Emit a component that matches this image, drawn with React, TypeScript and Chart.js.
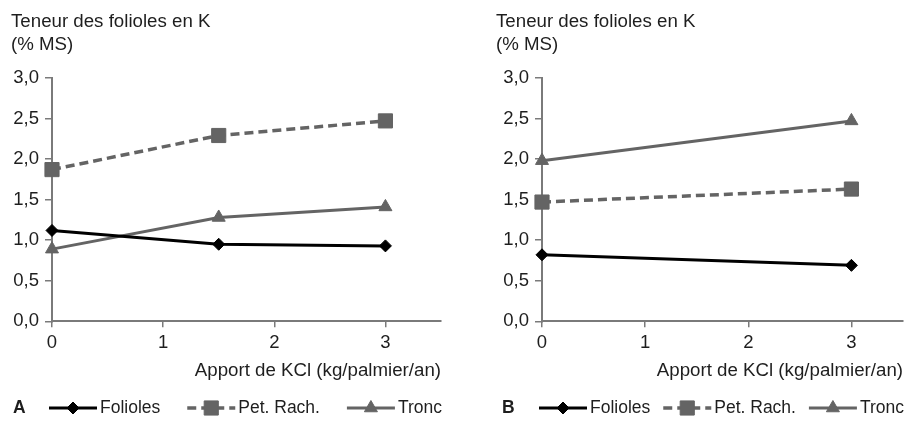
import React, { useEffect, useRef } from 'react';
import { Chart, registerables } from 'chart.js';
import { drawPoint } from 'chart.js/helpers';

Chart.register(...registerables);

// ---- data ----
const yTitleLines = ['Teneur des folioles en K', '(% MS)'];
const xTitle = 'Apport de KCl (kg/palmier/an)';
const seriesNames = ['Folioles', 'Pet. Rach.', 'Tronc'];
const xTickValues = [0, 1, 2, 3];
const yTickValues = [0, 0.5, 1, 1.5, 2, 2.5, 3];

const doseA = [0, 1.5, 3];
const foliolesA = [1.12, 0.95, 0.93];
const petRachA = [1.87, 2.29, 2.47];
const troncA = [0.89, 1.28, 1.41];

const doseB = [0, 3];
const foliolesB = [0.82, 0.69];
const petRachB = [1.47, 1.63];
const troncB = [1.98, 2.47];

// ---- styles ----
const FONT = '"Liberation Sans", Arial, Helvetica, sans-serif';
const TEXT = '#1e1e1e';
const AXIS = '#7a7a7a';
const BLACK = '#000000';
const GREY = '#646464';

const kLegendPlugin = {
  id: 'kLegend',
  afterDraw(chart: any, _args: any, opts: any) {
    const { ctx, chartArea } = chart;
    const y = opts.y;
    ctx.save();
    ctx.textBaseline = 'middle';
    ctx.textAlign = 'left';
    ctx.fillStyle = TEXT;
    ctx.font = `bold ${opts.labelSize}px ${FONT}`;
    ctx.fillText(opts.panel, opts.labelX, y);
    ctx.font = `${opts.fontSize}px ${FONT}`;
    const sampleW = 48;
    const gapText = 3;
    const items = chart.data.datasets.map((ds: any) => ({ ds, w: ctx.measureText(ds.label).width }));
    const total = items.reduce((s: number, it: any) => s + sampleW + gapText + it.w, 0);
    const span = chartArea.right + 1 - opts.startX;
    const gap = items.length > 1 ? (span - total) / (items.length - 1) : 0;
    let x = opts.startX;
    items.forEach(({ ds, w }: any) => {
      ctx.save();
      ctx.strokeStyle = ds.borderColor;
      ctx.lineWidth = ds.borderWidth;
      ctx.setLineDash(ds.borderDash || []);
      ctx.beginPath();
      ctx.moveTo(x, y);
      ctx.lineTo(x + sampleW, y);
      ctx.stroke();
      ctx.setLineDash([]);
      ctx.fillStyle = ds.pointBackgroundColor;
      ctx.strokeStyle = ds.pointBorderColor;
      ctx.lineWidth = ds.pointBorderWidth;
      drawPoint(
        ctx,
        { pointStyle: ds.pointStyle, radius: ds.pointRadius, rotation: 0, borderWidth: ds.pointBorderWidth },
        x + sampleW / 2,
        y
      );
      ctx.restore();
      ctx.fillStyle = TEXT;
      ctx.fillText(ds.label, x + sampleW + gapText, y);
      x += sampleW + gapText + w + gap;
    });
    ctx.restore();
  },
};

type PanelProps = {
  panel: string;
  dose: number[];
  folioles: number[];
  petRach: number[];
  tronc: number[];
  left: number;
  width: number;
  yAxisWidth: number;
  labelX: number;
  legendStartX: number;
};

function Panel(props: PanelProps) {
  const ref = useRef<HTMLCanvasElement>(null);
  useEffect(() => {
    const { panel, dose, folioles, petRach, tronc, yAxisWidth, labelX, legendStartX } = props;
    const pts = (vals: number[]) => dose.map((x, i) => ({ x, y: vals[i] }));
    const chart = new Chart(ref.current as HTMLCanvasElement, {
      type: 'line',
      data: {
        datasets: [
          {
            label: seriesNames[0],
            data: pts(folioles),
            borderColor: BLACK,
            backgroundColor: BLACK,
            borderWidth: 3,
            pointStyle: 'rectRot',
            pointRadius: 6,
            pointBackgroundColor: BLACK,
            pointBorderColor: BLACK,
            pointBorderWidth: 1,
            clip: false,
          },
          {
            label: seriesNames[1],
            data: pts(petRach),
            borderColor: GREY,
            backgroundColor: GREY,
            borderWidth: 3.5,
            borderDash: [9, 5],
            pointStyle: 'rect',
            pointRadius: 10,
            pointBackgroundColor: GREY,
            pointBorderColor: GREY,
            pointBorderWidth: 1,
            clip: false,
          },
          {
            label: seriesNames[2],
            data: pts(tronc),
            borderColor: GREY,
            backgroundColor: GREY,
            borderWidth: 3,
            pointStyle: 'triangle',
            pointRadius: 7.5,
            pointBackgroundColor: GREY,
            pointBorderColor: GREY,
            pointBorderWidth: 1,
            clip: false,
          },
        ] as any,
      },
      options: {
        animation: false,
        responsive: false,
        devicePixelRatio: 1,
        layout: { padding: { left: 11, right: 6, top: 0, bottom: 40 } },
        plugins: {
          legend: { display: false },
          tooltip: { enabled: false },
          title: {
            display: true,
            text: yTitleLines,
            align: 'start',
            color: TEXT,
            font: { family: FONT, size: 18.7, weight: 'normal', lineHeight: 1.2 },
            padding: { top: 11, bottom: 22 },
          },
          kLegend: { panel, y: 408, labelX, startX: legendStartX, fontSize: 17.5, labelSize: 17.5 },
        } as any,
        scales: {
          x: {
            type: 'linear',
            min: 0,
            max: 3.5,
            afterBuildTicks: (s: any) => {
              s.ticks = xTickValues.map((v) => ({ value: v }));
            },
            ticks: {
              color: TEXT,
              font: { family: FONT, size: 18.5 },
              padding: 4,
              maxRotation: 0,
              autoSkip: false,
              callback: (v: any) => String(v),
            },
            grid: { display: true, drawOnChartArea: false, drawTicks: true, tickLength: 6, color: AXIS, lineWidth: 1.5 },
            border: { display: true, color: AXIS, width: 2 },
            title: {
              display: true,
              text: xTitle,
              align: 'end',
              color: TEXT,
              font: { family: FONT, size: 18.7, lineHeight: 1.2 },
              padding: { top: 2, bottom: 0 },
            },
          },
          y: {
            type: 'linear',
            min: 0,
            max: 3,
            afterBuildTicks: (s: any) => {
              s.ticks = yTickValues.map((v) => ({ value: v }));
            },
            afterFit: (s: any) => {
              s.width = yAxisWidth;
            },
            ticks: {
              color: TEXT,
              font: { family: FONT, size: 18.5 },
              padding: 6,
              autoSkip: false,
              callback: (v: any) => Number(v).toFixed(1).replace('.', ','),
            },
            grid: { display: true, drawOnChartArea: false, drawTicks: true, tickLength: 7, color: AXIS, lineWidth: 1.5 },
            border: { display: true, color: AXIS, width: 2 },
          },
        } as any,
      },
      plugins: [kLegendPlugin as any],
    });
    return () => chart.destroy();
  }, []);
  return (
    <canvas
      ref={ref}
      width={props.width}
      height={422}
      style={{ position: 'absolute', left: props.left, top: 0, width: props.width, height: 422 }}
    />
  );
}

export default function App() {
  return (
    <div style={{ position: 'absolute', left: 0, top: 0, width: 915, height: 422, background: '#fff', overflow: 'hidden' }}>
      <Panel
        panel="A"
        dose={doseA}
        folioles={foliolesA}
        petRach={petRachA}
        tronc={troncA}
        left={0}
        width={452}
        yAxisWidth={41}
        labelX={13}
        legendStartX={49}
      />
      <Panel
        panel="B"
        dose={doseB}
        folioles={foliolesB}
        petRach={petRachB}
        tronc={troncB}
        left={485}
        width={429}
        yAxisWidth={46}
        labelX={17}
        legendStartX={54}
      />
    </div>
  );
}
